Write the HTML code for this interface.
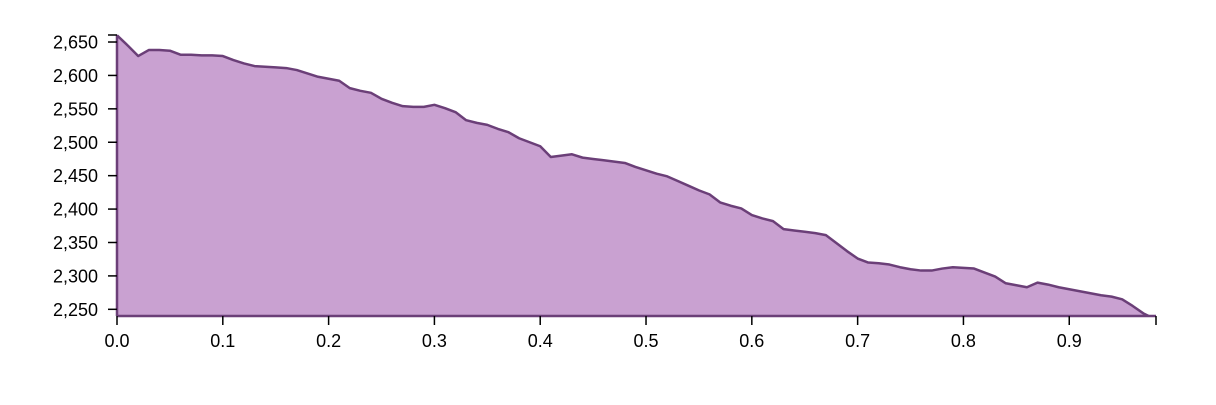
<!DOCTYPE html>
<html><head><meta charset="utf-8"><style>
body{margin:0;background:#fff;}
svg text{font-family:"Liberation Sans",Arial,sans-serif;font-size:18px;fill:#000;}
</style></head><body>
<svg id="chart" width="1216" height="400" xmlns="http://www.w3.org/2000/svg"></svg>
<script>
const xValues=[0,0.01,0.02,0.03,0.04,0.05,0.06,0.07,0.08,0.09,0.1,0.11,0.12,0.13,0.14,0.15,0.16,0.17,0.18,0.19,0.2,0.21,0.22,0.23,0.24,0.25,0.26,0.27,0.28,0.29,0.3,0.31,0.32,0.33,0.34,0.35,0.36,0.37,0.38,0.39,0.4,0.41,0.42,0.43,0.44,0.45,0.46,0.47,0.48,0.49,0.5,0.51,0.52,0.53,0.54,0.55,0.56,0.57,0.58,0.59,0.6,0.61,0.62,0.63,0.64,0.65,0.66,0.67,0.68,0.69,0.7,0.71,0.72,0.73,0.74,0.75,0.76,0.77,0.78,0.79,0.8,0.81,0.82,0.83,0.84,0.85,0.86,0.87,0.88,0.89,0.9,0.91,0.92,0.93,0.94,0.95,0.96,0.97,0.975];
const yValues=[2660,2645,2629,2638,2638,2637,2631,2631,2630,2630,2629,2623,2618,2614,2613,2612,2611,2608,2603,2598,2595,2592,2581,2577,2574,2565,2559,2554,2553,2553,2556,2551,2545,2533,2529,2526,2520,2515,2506,2500,2494,2478,2480,2482,2477,2475,2473,2471,2469,2463,2458,2453,2449,2442,2435,2428,2422,2410,2405,2401,2391,2386,2382,2370,2368,2366,2364,2361,2349,2337,2326,2320,2319,2317,2313,2310,2308,2308,2311,2313,2312,2311,2305,2299,2289,2286,2283,2290,2287,2283,2280,2277,2274,2271,2269,2265,2255,2244,2240];
const xTicks=[0,0.1,0.2,0.3,0.4,0.5,0.6,0.7,0.8,0.9];
const yTicks=[2250,2300,2350,2400,2450,2500,2550,2600,2650];
const X0=117,X1=1156,Y0=316,Y1=35,xMax=0.982,yMin=2240,yMax=2660.5;
const xs=v=>X0+(X1-X0)*v/xMax;
const ys=v=>Y0-(Y0-Y1)*(v-yMin)/(yMax-yMin);
const svg=document.getElementById('chart');
const NS='http://www.w3.org/2000/svg';
function mk(t,a){const e=document.createElementNS(NS,t);for(const k in a)e.setAttribute(k,a[k]);svg.appendChild(e);return e;}
let d='M'+xs(xValues[0])+','+Y0;
let ld='';
xValues.forEach((x,i)=>{d+='L'+xs(x)+','+ys(yValues[i]);ld+=(i?'L':'M')+xs(x)+','+ys(yValues[i]);});
d+='L'+xs(xValues[xValues.length-1])+','+Y0+'Z';
const area=mk('path',{d:d,fill:'#c9a1d1',stroke:'none'});


const line=mk('path',{d:ld,fill:'none',stroke:'#6b3f78','stroke-width':2.5,'stroke-linejoin':'round'});


const bl=mk('line',{x1:X0,x2:X1,y1:Y0,y2:Y0,stroke:'#6b3f78','stroke-width':2.5});


const yl=mk('line',{x1:X0,x2:X0,y1:Y1,y2:Y0,stroke:'#6b3f78','stroke-width':2.5});


xTicks.forEach(t=>{const x=xs(t);
const tk=mk('line',{x1:x,x2:x,y1:Y0,y2:Y0+9,stroke:'#000','stroke-width':1.5});


const tx=mk('text',{x:x,y:Y0+31,'text-anchor':'middle'});tx.textContent=t.toFixed(1);

});
const te=mk('line',{x1:X1,x2:X1,y1:Y0,y2:Y0+9,stroke:'#000','stroke-width':1.5});


yTicks.forEach(t=>{const y=ys(t);
const tk=mk('line',{x1:X0-9,x2:X0,y1:y,y2:y,stroke:'#000','stroke-width':1.5});


const tx=mk('text',{x:X0-19,y:y+6.5,'text-anchor':'end'});tx.textContent=t.toLocaleString('en-US');

});
const tt=mk('line',{x1:X0-9,x2:X0,y1:Y1,y2:Y1,stroke:'#000','stroke-width':1.5});


</script>
</body></html>
